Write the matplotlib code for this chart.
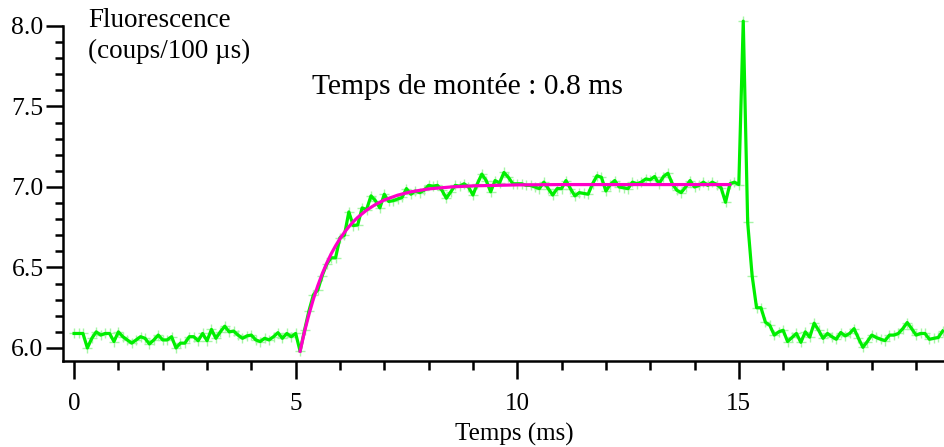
import numpy as np
import matplotlib
matplotlib.use("Agg")
import matplotlib.pyplot as plt
from matplotlib.ticker import MultipleLocator

plt.rcParams['font.family'] = ['Liberation Serif', 'DejaVu Serif']

# time axis (ms), sampled every 0.1 ms
temps = np.round(np.arange(0, 197) * 0.1, 1)

# fluorescence counts / 100 us
base = [6.09, 6.09, 6.09, 6.00, 6.06, 6.10, 6.08, 6.09, 6.09, 6.04,
        6.10, 6.07, 6.05, 6.03, 6.05, 6.07, 6.06, 6.025, 6.05, 6.08,
        6.05, 6.05, 6.07, 6.00, 6.03, 6.03, 6.07, 6.07, 6.045, 6.09,
        6.045, 6.115, 6.06, 6.10, 6.135, 6.10, 6.105, 6.08, 6.06, 6.075,
        6.08, 6.05, 6.04, 6.06, 6.05, 6.07, 6.095, 6.06, 6.09, 6.07,
        6.09]
rise = [5.98, 6.11, 6.23, 6.33, 6.36, 6.45, 6.52, 6.56, 6.56, 6.685,
        6.70, 6.845, 6.76, 6.765, 6.87, 6.86, 6.945, 6.915, 6.87, 6.955,
        6.91, 6.915, 6.925, 6.935, 6.99, 6.955, 6.975, 6.965, 6.98]
plateau = [7.01, 7.005, 7.01, 6.98, 6.93, 6.97, 7.01, 7.005, 7.02, 7.00,
           6.95, 7.02, 7.08, 7.04, 6.97, 7.04, 7.025, 7.09, 7.06, 7.02,
           7.02, 7.02, 7.01, 7.01, 7.00, 6.99, 7.03, 6.99, 6.95, 6.99,
           6.99, 7.04, 6.99, 6.945, 6.965, 6.96, 6.955, 7.02, 7.07, 7.06,
           6.975, 7.015, 7.04, 7.00, 6.995, 6.99, 7.03, 7.02, 7.03, 7.05,
           7.045, 7.065, 7.02, 7.065, 7.085, 7.02, 6.98, 6.965, 7.00, 7.04,
           7.00, 7.01, 7.03, 7.01, 7.03, 7.015, 6.995, 6.905, 7.02, 7.03,
           7.015]
decay = [8.03, 6.78, 6.45, 6.25, 6.25, 6.16, 6.14, 6.08, 6.10, 6.11,
         6.04, 6.065, 6.09, 6.035, 6.10, 6.067, 6.154, 6.11, 6.06, 6.09,
         6.07, 6.054, 6.096, 6.075, 6.09, 6.12, 6.06, 6.004, 6.04, 6.08,
         6.065, 6.054, 6.046, 6.08, 6.08, 6.09, 6.12, 6.158, 6.12, 6.08,
         6.09, 6.09, 6.054, 6.06, 6.065, 6.105]
fluo = base + rise + plateau + decay

# exponential fit (rise time 0.8 ms)
fit_t = [5.1, 5.2, 5.3, 5.4, 5.5, 5.6, 5.7, 5.8, 5.9, 6.0, 6.1, 6.2, 6.3,
         6.4, 6.6, 6.8, 7.0, 7.3, 7.6, 8.0, 8.5, 9.0, 10.0, 11.0, 14.8]
fit_y = [5.98, 6.102, 6.209, 6.304, 6.387, 6.461, 6.526, 6.584, 6.634,
         6.679, 6.718, 6.753, 6.784, 6.811, 6.856, 6.891, 6.919, 6.949,
         6.970, 6.988, 7.000, 7.007, 7.013, 7.015, 7.015]

fig = plt.figure(figsize=(9.44, 4.47), dpi=100)
ax = fig.add_axes([63 / 944, 86 / 447, 1 - 63 / 944, 335 / 447])

ax.plot(temps, fluo, ls='none', marker='+', ms=7, mew=1.0,
        color='#a6f5a6', clip_on=False, zorder=2)
ax.plot(temps, fluo, color='#00ee00', lw=2.3, clip_on=False, zorder=3)
ax.plot(fit_t, fit_y, color='#ff00c8', lw=2.3, zorder=4)

ax.set_xlim(-0.25, 19.63)
ax.set_ylim(5.919, 8.0)

ax.xaxis.set_major_locator(MultipleLocator(5))
ax.xaxis.set_minor_locator(MultipleLocator(1))
ax.yaxis.set_major_locator(MultipleLocator(0.5))
ax.yaxis.set_minor_locator(MultipleLocator(0.1))
ax.yaxis.set_major_formatter(matplotlib.ticker.FormatStrFormatter('%.1f'))

for s in ['top', 'right']:
    ax.spines[s].set_visible(False)
for s in ['left', 'bottom']:
    ax.spines[s].set_linewidth(1.8)

ax.tick_params(axis='x', which='major', length=13, width=1.8, pad=10, labelsize=18)
ax.tick_params(axis='x', which='minor', length=6.5, width=1.8)
ax.tick_params(axis='y', which='major', length=12, width=1.8, pad=2, labelsize=18.5)
ax.tick_params(axis='y', which='minor', length=6, width=1.8)

ax.text(88 / 944, 1 - 8 / 447, 'Fluorescence\n(coups/100 µs)', transform=fig.transFigure,
        fontsize=19.5, va='top', ha='left', linespacing=1.3)
ax.text(312 / 944, 1 - 86 / 447, 'Temps de montée : 0.8 ms', transform=fig.transFigure,
        fontsize=21.3, va='center', ha='left')
fig.text(514 / 944, 1 - 434 / 447, 'Temps (ms)', fontsize=18, va='center', ha='center')

fig.savefig('out.png', dpi=100)
